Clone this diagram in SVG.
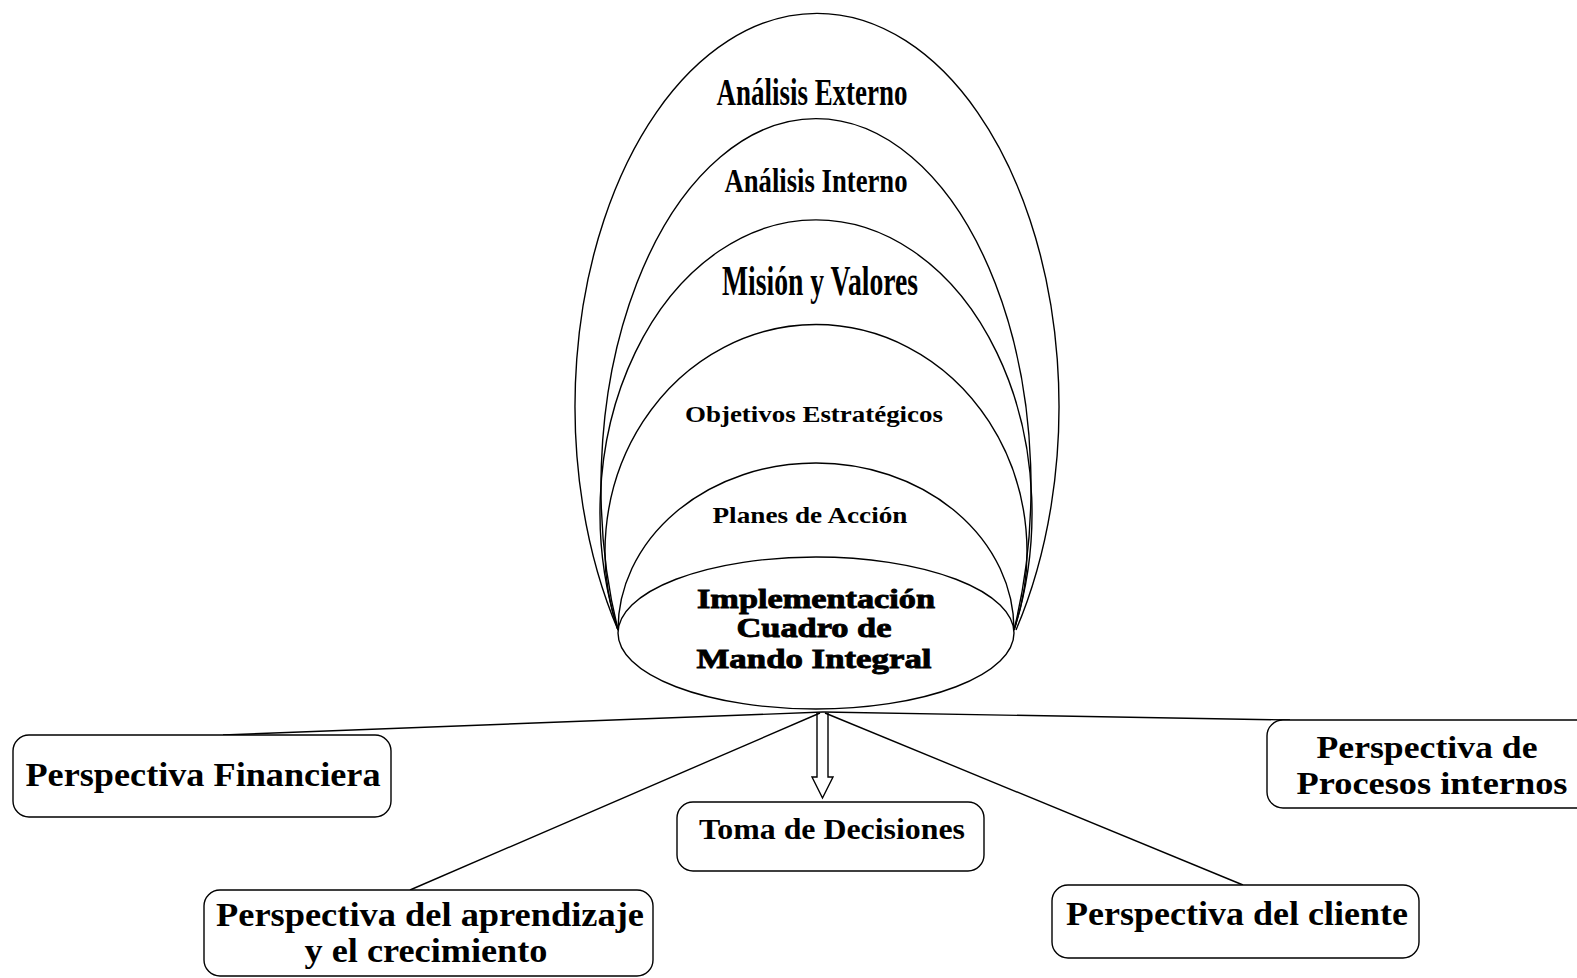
<svg xmlns="http://www.w3.org/2000/svg" width="1577" height="978" viewBox="0 0 1577 978">
  <style>
    .line { fill: none; stroke: #000; stroke-width: 1.4; }
    .box { fill: #fff; stroke: #000; stroke-width: 1.4; }
    .t { font-family: "Liberation Serif", "Times New Roman", serif; font-weight: bold; fill: #000; text-anchor: middle; }
    .heavy { stroke: #000; stroke-width: 0.9; }
  </style>
  <rect width="1577" height="978" fill="#fff"/>

  <!-- nested strategy layers, outermost first -->
  <g id="analisis-externo">
    <path class="line" d="M 618 630 A 242 393 0 1 1 1016 630"/>
    <text class="t" x="812" y="105" font-size="38" textLength="191" lengthAdjust="spacingAndGlyphs">Análisis Externo</text>
  </g>
  <g id="analisis-interno">
    <path class="line" d="M 618 630 A 215 368 0 1 1 1014 630"/>
    <text class="t" x="816" y="192" font-size="33" textLength="183" lengthAdjust="spacingAndGlyphs">Análisis Interno</text>
  </g>
  <g id="mision-valores">
    <path class="line" d="M 618 630 A 216 293 0 1 1 1014 630"/>
    <text class="t" x="820" y="295" font-size="42" textLength="196" lengthAdjust="spacingAndGlyphs">Misión y Valores</text>
  </g>
  <g id="objetivos">
    <path class="line" d="M 618 630 A 211 227 0 1 1 1014 630"/>
    <text class="t" x="814" y="422" font-size="24" textLength="258" lengthAdjust="spacingAndGlyphs">Objetivos Estratégicos</text>
  </g>
  <g id="planes">
    <path class="line" d="M 618 630 A 198 167 0 1 1 1014 630"/>
    <text class="t" x="810" y="523" font-size="23" textLength="195" lengthAdjust="spacingAndGlyphs">Planes de Acción</text>
  </g>
  <g id="implementacion">
    <ellipse class="line" cx="816" cy="633" rx="198" ry="76"/>
    <text class="t heavy" x="816" y="608" font-size="28" textLength="238" lengthAdjust="spacingAndGlyphs">Implementación</text>
    <text class="t heavy" x="814" y="637" font-size="28" textLength="155" lengthAdjust="spacingAndGlyphs">Cuadro de</text>
    <text class="t heavy" x="814" y="668" font-size="28" textLength="235" lengthAdjust="spacingAndGlyphs">Mando Integral</text>
  </g>

  <!-- connectors from the hub under the base ellipse -->
  <g id="connectors">
    <path class="line" d="M 223 735 L 823 712"/>
    <path class="line" d="M 823 712 L 1290 720"/>
    <path class="line" d="M 820 713 L 410 890"/>
    <path class="line" d="M 825 713 L 1243 885"/>
    <path class="line" fill="#fff" d="M 817 713 L 817 777 L 812 777 L 822.5 798 L 833 777 L 828 777 L 828 713"/>
  </g>

  <!-- perspective boxes -->
  <g id="financiera">
    <rect class="box" x="13" y="735" width="378" height="82" rx="16"/>
    <text class="t" x="203" y="786" font-size="33" textLength="355" lengthAdjust="spacingAndGlyphs">Perspectiva Financiera</text>
  </g>
  <g id="aprendizaje">
    <rect class="box" x="204" y="890" width="449" height="86" rx="16"/>
    <text class="t" x="430" y="926" font-size="33" textLength="428" lengthAdjust="spacingAndGlyphs">Perspectiva del aprendizaje</text>
    <text class="t" x="426" y="962" font-size="33" textLength="243" lengthAdjust="spacingAndGlyphs">y el crecimiento</text>
  </g>
  <g id="decisiones">
    <rect class="box" x="677" y="802" width="307" height="69" rx="16"/>
    <text class="t" x="832" y="839" font-size="30" textLength="266" lengthAdjust="spacingAndGlyphs">Toma de Decisiones</text>
  </g>
  <g id="cliente">
    <rect class="box" x="1052" y="885" width="367" height="73" rx="16"/>
    <text class="t" x="1237" y="925" font-size="33" textLength="342" lengthAdjust="spacingAndGlyphs">Perspectiva del cliente</text>
  </g>
  <g id="procesos">
    <rect class="box" x="1267" y="720" width="340" height="88" rx="16"/>
    <text class="t" x="1427" y="758" font-size="32" textLength="221" lengthAdjust="spacingAndGlyphs">Perspectiva de</text>
    <text class="t" x="1432" y="794" font-size="32" textLength="271" lengthAdjust="spacingAndGlyphs">Procesos internos</text>
  </g>
</svg>
